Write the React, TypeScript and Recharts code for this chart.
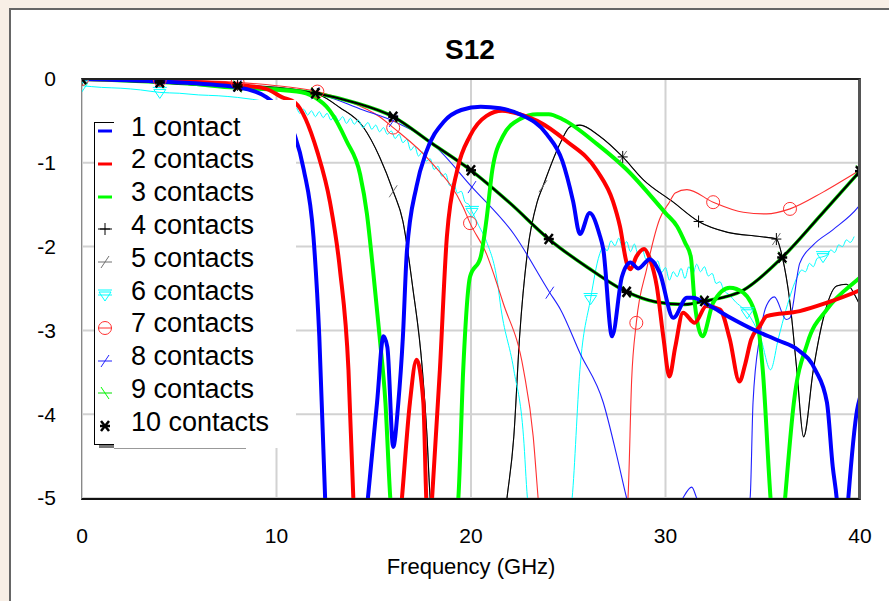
import { LineChart, Line, XAxis, YAxis, CartesianGrid, Label } from "recharts";

// S12 vs frequency, one trace per number of contacts
const freqTicks = [0, 10, 20, 30, 40];
const s12Ticks = [-5, -4, -3, -2, -1, 0];
const names = [
  "1 contact", "2 contacts", "3 contacts", "4 contacts", "5 contacts",
  "6 contacts", "7 contacts", "8 contacts", "9 contacts", "10 contacts",
];

const c1 = [
  [0, 0], [4, -0.03], [8, -0.1], [9.5, -0.22], [10.3, -0.4], [10.95, -0.68], [11.4, -1.08], [11.9, -1.88],
  [12.2, -3.07], [12.5, -5], [13.6, -8], [14.7, -5], [15.17, -3.86], [15.5, -3.07], [15.7, -3.2], [16.0, -4.39],
  [16.25, -3.9], [16.5, -3.07], [16.7, -2.07], [17.2, -1.28], [17.7, -0.87], [18.6, -0.51], [19.5, -0.37],
  [20.5, -0.33], [21.5, -0.35], [22.5, -0.42], [23.9, -0.66], [24.7, -0.98], [25.25, -1.46], [25.6, -1.85],
  [26.1, -1.6], [26.6, -1.85], [26.8, -2.03], [27.25, -3.07], [27.76, -2.36], [28.2, -2.19], [28.6, -2.26],
  [29.2, -2.15], [29.7, -2.31], [30.4, -2.85], [31.1, -2.61], [31.4, -2.61], [32.3, -2.71], [33.2, -2.83],
  [34.7, -3.01], [35.8, -3.12], [36.8, -3.23], [37.7, -3.47], [38.3, -3.86], [38.6, -4.63], [38.8, -5],
  [39.1, -6], [39.4, -5], [39.85, -3.95], [40, -3.8],
];
const c2 = [
  [0, 0], [4, -0.02], [8, -0.07], [9.5, -0.12], [10.3, -0.22], [10.95, -0.28], [12.1, -0.87], [12.75, -1.47],
  [13.26, -2.27], [13.7, -3.47], [13.95, -5], [15.2, -8], [16.45, -5], [16.86, -3.86], [17.2, -3.35],
  [17.55, -3.86], [17.7, -5], [17.85, -5.5], [18.0, -5], [18.4, -3.47], [18.76, -1.88], [19.3, -1.08],
  [19.95, -0.68], [20.8, -0.44], [21.6, -0.38], [22.5, -0.42], [23.4, -0.5], [24.9, -0.74], [26.5, -1.1],
  [27.3, -1.46], [27.66, -1.76], [28.0, -2.19], [28.2, -2.27], [28.5, -2.12], [28.9, -2.03], [29.2, -2.15],
  [29.55, -2.47], [29.9, -3.1], [30.2, -3.55], [30.5, -3.2], [30.9, -2.79], [31.5, -2.91], [32.1, -2.71],
  [32.8, -2.75], [33.3, -3.1], [33.8, -3.61], [34.1, -3.4], [34.4, -3.11], [34.85, -2.95], [35.2, -2.83],
  [36.9, -2.77], [38.3, -2.67], [39.9, -2.53], [40, -2.52],
];
const c3 = [
  [0, 0], [4, -0.02], [7.6, -0.1], [11.05, -0.15], [11.9, -0.21], [12.75, -0.38], [13.6, -0.74], [14.3, -1.14],
  [14.65, -1.61], [14.96, -2.27], [15.3, -3.07], [15.6, -3.86], [15.85, -5], [17.6, -8], [19.35, -5],
  [19.6, -3.47], [19.95, -2.36], [20.5, -2.12], [20.8, -1.67], [21.1, -1.08], [21.65, -0.68], [22.5, -0.48],
  [23.4, -0.42], [24.0, -0.42], [24.7, -0.48], [26.5, -0.78], [28.0, -1.08], [30.0, -1.6], [30.6, -1.76],
  [31.0, -1.95], [31.3, -2.12], [31.5, -2.67], [31.9, -3.07], [32.45, -2.67], [33.3, -2.49], [34.0, -2.55],
  [34.7, -2.87], [35.0, -3.47], [35.4, -5], [35.8, -6], [36.15, -5], [36.6, -3.86], [37.3, -3.15],
  [38.3, -2.75], [39.9, -2.39], [40, -2.37],
];
const c4 = [
  [0, 0], [4, -0.02], [8, -0.07], [10, -0.1], [12.1, -0.18], [13.25, -0.34], [14.45, -0.57], [15.3, -0.93],
  [16.0, -1.34], [16.5, -1.7], [17.0, -2.48], [17.5, -3.47], [17.74, -4.27], [17.9, -5], [19.9, -8],
  [21.85, -5], [22.2, -4.27], [22.5, -3.07], [22.9, -2.07], [23.4, -1.47], [23.7, -1.28], [24.6, -0.76],
  [25.1, -0.57], [25.6, -0.55], [26.6, -0.68], [27.8, -0.93], [28.85, -1.2], [30.4, -1.47], [31.7, -1.7],
  [33.2, -1.83], [34.85, -1.88], [35.7, -1.91], [36.0, -2.12], [36.4, -2.67], [36.75, -3.47], [37.1, -4.27],
  [37.6, -3.47], [38.1, -2.87], [38.8, -2.47], [39.3, -2.45], [39.85, -2.63], [40, -2.7],
];
const c5 = [
  [0, 0], [4, -0.02], [8, -0.07], [10, -0.1], [12.1, -0.18], [13.25, -0.34], [14.45, -0.57], [15.3, -0.93],
  [16.0, -1.34], [16.5, -1.7], [17.0, -2.48], [17.5, -3.47], [17.74, -4.27], [17.9, -5], [19.9, -8],
  [21.85, -5], [22.2, -4.27], [22.5, -3.07], [22.9, -2.07], [23.4, -1.47], [23.7, -1.28], [24.6, -0.76],
  [25.1, -0.57], [25.6, -0.55], [26.6, -0.68], [27.8, -0.93], [28.85, -1.2], [30.4, -1.47], [31.7, -1.7],
  [33.2, -1.83], [34.85, -1.88], [35.7, -1.91], [36.0, -2.12], [36.4, -2.67], [36.75, -3.47], [37.1, -4.27],
  [37.6, -3.47], [38.1, -2.87], [38.8, -2.47], [39.3, -2.45], [39.85, -2.63], [40, -2.7],
];
// 6 contacts is a noisy trace
const c6 = [
  [0, -0.08], [1, -0.1], [2, -0.11], [3, -0.13], [4, -0.16], [5, -0.17], [6, -0.19], [7, -0.2], [8, -0.22],
  [9.5, -0.27], [11.0, -0.34], [11.2, -0.41], [11.4, -0.36], [11.6, -0.43], [11.8, -0.38], [12.0, -0.45],
  [12.2, -0.39], [12.4, -0.46], [12.6, -0.41], [12.8, -0.49], [13.0, -0.43], [13.2, -0.5], [13.4, -0.45],
  [13.6, -0.53], [13.8, -0.47], [14.0, -0.54], [14.2, -0.49], [14.45, -0.58], [14.7, -0.52], [14.9, -0.6],
  [15.1, -0.55], [15.3, -0.63], [15.5, -0.58], [15.7, -0.66], [15.9, -0.62], [16.1, -0.71], [16.3, -0.66],
  [16.5, -0.76], [16.7, -0.72], [16.9, -0.85], [17.1, -0.8], [17.3, -0.92], [17.5, -0.87], [17.7, -0.98],
  [17.9, -0.95], [18.1, -1.08], [18.3, -1.04], [18.5, -1.16], [18.7, -1.13], [18.9, -1.27], [19.1, -1.24],
  [19.3, -1.36], [19.5, -1.34], [19.7, -1.47], [19.9, -1.5], [20.05, -1.58], [20.4, -1.75], [20.8, -1.94],
  [21.4, -2.49], [21.5, -2.67], [22.2, -3.47], [22.7, -4.27], [22.9, -5], [24, -6.5], [25.2, -5],
  [25.6, -3.47], [26.15, -2.62], [26.6, -2.1], [26.8, -2.0], [27.0, -2.05], [27.2, -1.93], [27.4, -1.99],
  [27.6, -1.9], [27.8, -2.02], [28.0, -1.94], [28.2, -2.06], [28.4, -1.97], [28.6, -2.1], [28.8, -2.03],
  [29.0, -2.15], [29.2, -2.1], [29.4, -2.24], [29.6, -2.17], [29.8, -2.31], [30.0, -2.25], [30.2, -2.4],
  [30.4, -2.3], [30.6, -2.36], [30.8, -2.26], [31.0, -2.38], [31.2, -2.24], [31.4, -2.33], [31.6, -2.21],
  [31.8, -2.3], [32.0, -2.24], [32.2, -2.35], [32.4, -2.32], [32.6, -2.44], [32.8, -2.42], [33.0, -2.52],
  [33.3, -2.58], [33.6, -2.66], [33.8, -2.7], [34.2, -2.79], [34.9, -3.1], [35.4, -3.47], [35.8, -3.1],
  [36.2, -2.75], [36.8, -2.35], [37.0, -2.28], [37.2, -2.3], [37.4, -2.2], [37.6, -2.24], [37.8, -2.14],
  [38.1, -2.12], [38.3, -2.1], [38.5, -2.04], [38.7, -2.07], [38.9, -1.98], [39.1, -2.0], [39.3, -1.92],
  [39.5, -1.95], [39.7, -1.88],
];
const c7 = [
  [0, 0], [4, -0.01], [8, -0.04], [10, -0.08], [12.1, -0.15], [13.5, -0.25], [15.3, -0.45], [16.0, -0.58],
  [17.9, -0.98], [19.6, -1.53], [19.95, -1.72], [20.8, -2.09], [21.4, -2.49], [21.65, -2.67], [22.7, -3.47],
  [23.2, -4.27], [23.45, -5], [25.8, -9], [28.07, -5], [28.26, -3.59], [28.5, -2.91], [29.03, -2.27],
  [29.7, -1.67], [30.2, -1.47], [30.5, -1.36], [31.1, -1.32], [32.45, -1.47], [34, -1.59], [35.2, -1.61],
  [36.4, -1.55], [38.1, -1.35], [39.85, -1.11], [40, -1.09],
];
const c8 = [
  [0, 0], [4, -0.03], [8, -0.08], [12, -0.17], [14.45, -0.37], [16, -0.5], [18.05, -0.78], [20.05, -1.29],
  [22.2, -1.85], [24.05, -2.55], [24.6, -2.75], [25.6, -3.27], [26.8, -3.86], [27.5, -4.5], [28.0, -5],
  [29.5, -6], [30.9, -5], [31.35, -4.87], [31.6, -5], [33, -6], [34.35, -5], [34.5, -3.86], [34.85, -3.07],
  [35.2, -2.7], [35.6, -2.6], [36.2, -2.87], [36.4, -2.85], [36.9, -2.2], [37.6, -1.98], [38.6, -1.8],
  [39.9, -1.53], [40, -1.5],
];
const c9 = [
  [0, 0], [4, -0.04], [8, -0.09], [10, -0.12], [12, -0.17], [14, -0.28], [16, -0.45], [18, -0.77], [20, -1.09],
  [22, -1.48], [24, -1.91], [26, -2.25], [28, -2.54], [29.5, -2.66], [31, -2.69], [32, -2.65], [34, -2.52],
  [36, -2.13], [38, -1.62], [40, -1.1],
];
const c10 = [
  [0, 0], [4, -0.04], [8, -0.09], [10, -0.12], [12, -0.17], [14, -0.28], [16, -0.45], [18, -0.77], [20, -1.09],
  [22, -1.48], [24, -1.91], [26, -2.25], [28, -2.54], [29.5, -2.66], [31, -2.69], [32, -2.65], [34, -2.52],
  [36, -2.13], [38, -1.62], [40, -1.1],
];

// x positions where each thin trace carries its marker
const marks4 = [0, 4, 8, 12.1, 27.8, 31.7, 35.7];
const marks5 = [16.0, 23.7, 27.8, 35.7];
const marks6 = [0, 4, 20.05, 26.15, 34.2, 38.1];
const marks7 = [0, 4, 8, 12.1, 16.0, 19.95, 28.5, 32.45, 36.4];
const marks8 = [0, 4, 8, 12, 16, 20.05, 24.05];
const marks10 = [0, 4, 8, 12, 16, 20, 24, 28, 32, 36, 40];

type Shape = "none" | "plus" | "slash" | "tri" | "circle" | "back" | "star";

function Marker({ cx, cy, shape, color }: { cx: number; cy: number; shape: Shape; color: string }) {
  if (shape === "plus")
    return (
      <g stroke={color} strokeWidth={1}>
        <line x1={cx - 5} y1={cy} x2={cx + 5} y2={cy} />
        <line x1={cx} y1={cy - 6} x2={cx} y2={cy + 6} />
      </g>
    );
  if (shape === "slash")
    return <line x1={cx - 4} y1={cy + 6} x2={cx + 4} y2={cy - 6} stroke={color} strokeWidth={1} />;
  if (shape === "back")
    return <line x1={cx - 4} y1={cy - 6} x2={cx + 4} y2={cy + 6} stroke={color} strokeWidth={1} />;
  if (shape === "tri")
    return (
      <g stroke={color} strokeWidth={1} fill="none">
        <line x1={cx - 7} y1={cy - 5} x2={cx + 7} y2={cy - 5} />
        <path d={`M${cx - 6},${cy - 3} L${cx + 6},${cy - 3} L${cx},${cy + 6} Z`} />
      </g>
    );
  if (shape === "circle") return <circle cx={cx} cy={cy} r={6.5} stroke={color} strokeWidth={1} fill="none" />;
  if (shape === "star")
    return (
      <g stroke={color} strokeWidth={2.5}>
        <line x1={cx - 5} y1={cy} x2={cx + 5} y2={cy} />
        <line x1={cx - 4} y1={cy - 5} x2={cx + 4} y2={cy + 5} />
        <line x1={cx - 4} y1={cy + 5} x2={cx + 4} y2={cy - 5} />
      </g>
    );
  return null;
}

const makeDot = (shape: Shape, color: string, xs: number[]) => (p: any) => {
  if (shape === "none" || p.cx == null || !xs.includes(p.payload?.x)) return <g key={"d" + p.index} />;
  return (
    <g key={"d" + p.index}>
      <Marker cx={p.cx} cy={p.cy} shape={shape} color={color} />
    </g>
  );
};

const toPts = (a: number[][]) => a.map(([x, y]) => ({ x, y }));

const series = [
  { name: names[0], data: c1, color: "#0000FF", width: 4, shape: "none" as Shape, marks: [] as number[] },
  { name: names[1], data: c2, color: "#FF0000", width: 4, shape: "none" as Shape, marks: [] as number[] },
  { name: names[2], data: c3, color: "#00FF00", width: 4, shape: "none" as Shape, marks: [] as number[] },
  { name: names[3], data: c4, color: "#000000", width: 1.1, shape: "plus" as Shape, marks: marks4 },
  { name: names[4], data: c5, color: "#707070", width: 1, shape: "slash" as Shape, marks: marks5 },
  { name: names[5], data: c6, color: "#00FFFF", width: 1, shape: "tri" as Shape, marks: marks6 },
  { name: names[6], data: c7, color: "#FF3030", width: 1.1, shape: "circle" as Shape, marks: marks7 },
  { name: names[7], data: c8, color: "#2020FF", width: 1.1, shape: "slash" as Shape, marks: marks8 },
  { name: names[8], data: c9, color: "#00E000", width: 3.5, shape: "back" as Shape, marks: marks10 },
  { name: names[9], data: c10, color: "#000000", width: 2.2, shape: "star" as Shape, marks: marks10 },
];

// drawing order: thin traces first, thick ones on top
const drawOrder = [4, 3, 5, 6, 7, 8, 9, 2, 1, 0];

const font = "Arial, 'Liberation Sans', sans-serif";

function LegendIcon({ i }: { i: number }) {
  const s = series[i];
  const thick = i < 3;
  return (
    <svg width={20} height={20} style={{ display: "block" }}>
      {i !== 9 && (
        <line x1={3} y1={10} x2={17} y2={10} stroke={s.color} strokeWidth={thick ? 3 : 1} />
      )}
      {!thick && <Marker cx={10} cy={10} shape={s.shape} color={i === 8 ? "#00FF00" : s.color} />}
    </svg>
  );
}

export default function App() {
  return (
    <div style={{ position: "absolute", left: 0, top: 0, width: 889, height: 601, background: "#F8EFE6", overflow: "hidden", fontFamily: font }}>
      <div style={{ position: "absolute", left: 9, top: 8, width: 900, height: 620, background: "#FFFFFF", borderTop: "2px solid #666", borderLeft: "2px solid #666" }} />
      <div style={{ position: "absolute", left: 400, top: 34, width: 140, textAlign: "center", fontSize: 28, fontWeight: "bold", lineHeight: "32px", color: "#000" }}>
        S12
      </div>
      <LineChart width={889} height={601} margin={{ top: 79, right: 29, bottom: 23, left: 22 }} style={{ position: "absolute", left: 0, top: 0 }}>
        <CartesianGrid stroke="#D2D2D2" strokeWidth={2} />
        <XAxis type="number" dataKey="x" domain={[0, 40]} ticks={freqTicks} allowDataOverflow height={80}
          axisLine={false} tickLine={false} tickSize={6} tickMargin={24}
          tick={{ fontFamily: font, fontSize: 21, fill: "#000" }}>
          <Label value="Frequency (GHz)" position="insideBottom" offset={4} style={{ fontFamily: font, fontSize: 22, fill: "#000" }} />
        </XAxis>
        <YAxis type="number" dataKey="y" domain={[-5, 0]} ticks={s12Ticks} allowDataOverflow width={60}
          axisLine={false} tickLine={false} tickSize={6} tickMargin={20}
          tick={{ fontFamily: font, fontSize: 21, fill: "#000" }} />
        {drawOrder.map((i) => {
          const s = series[i];
          return (
            <Line key={s.name} name={s.name} data={toPts(s.data)} dataKey="y" type="monotone"
              stroke={s.color} strokeWidth={s.width} dot={makeDot(s.shape, s.color, s.marks)}
              activeDot={false} isAnimationActive={false} />
          );
        })}
      </LineChart>
      {/* plot frame */}
      <div style={{ position: "absolute", left: 81, top: 78, width: 776, height: 418, borderTop: "2px solid #222", borderLeft: "1px solid #888", borderBottom: "2px solid #111", borderRight: "3px solid #555", pointerEvents: "none" }} />
      {/* legend */}
      <div style={{ position: "absolute", left: 114, top: 100, width: 182, height: 348, background: "#fff" }} />
      <div style={{ position: "absolute", left: 94, top: 122, width: 20, height: 323, background: "#fff", borderTop: "1px solid #000", borderLeft: "1px solid #000", borderBottom: "1px solid #000", boxSizing: "border-box" }} />
      <div style={{ position: "absolute", left: 99, top: 445, width: 15, height: 3, background: "#777" }} />
      <div style={{ position: "absolute", left: 114, top: 448, width: 132, height: 1, background: "#999" }} />
      {names.map((n, i) => (
        <div key={n} style={{ position: "absolute", left: 95, top: 110.6 + 32.8 * i, height: 32.8, display: "flex", alignItems: "center" }}>
          <div style={{ width: 19, marginTop: 8 }}>
            <LegendIcon i={i} />
          </div>
          <span style={{ marginLeft: 17, fontSize: 27, lineHeight: "32.8px", color: "#000", whiteSpace: "nowrap" }}>{n}</span>
        </div>
      ))}
    </div>
  );
}
